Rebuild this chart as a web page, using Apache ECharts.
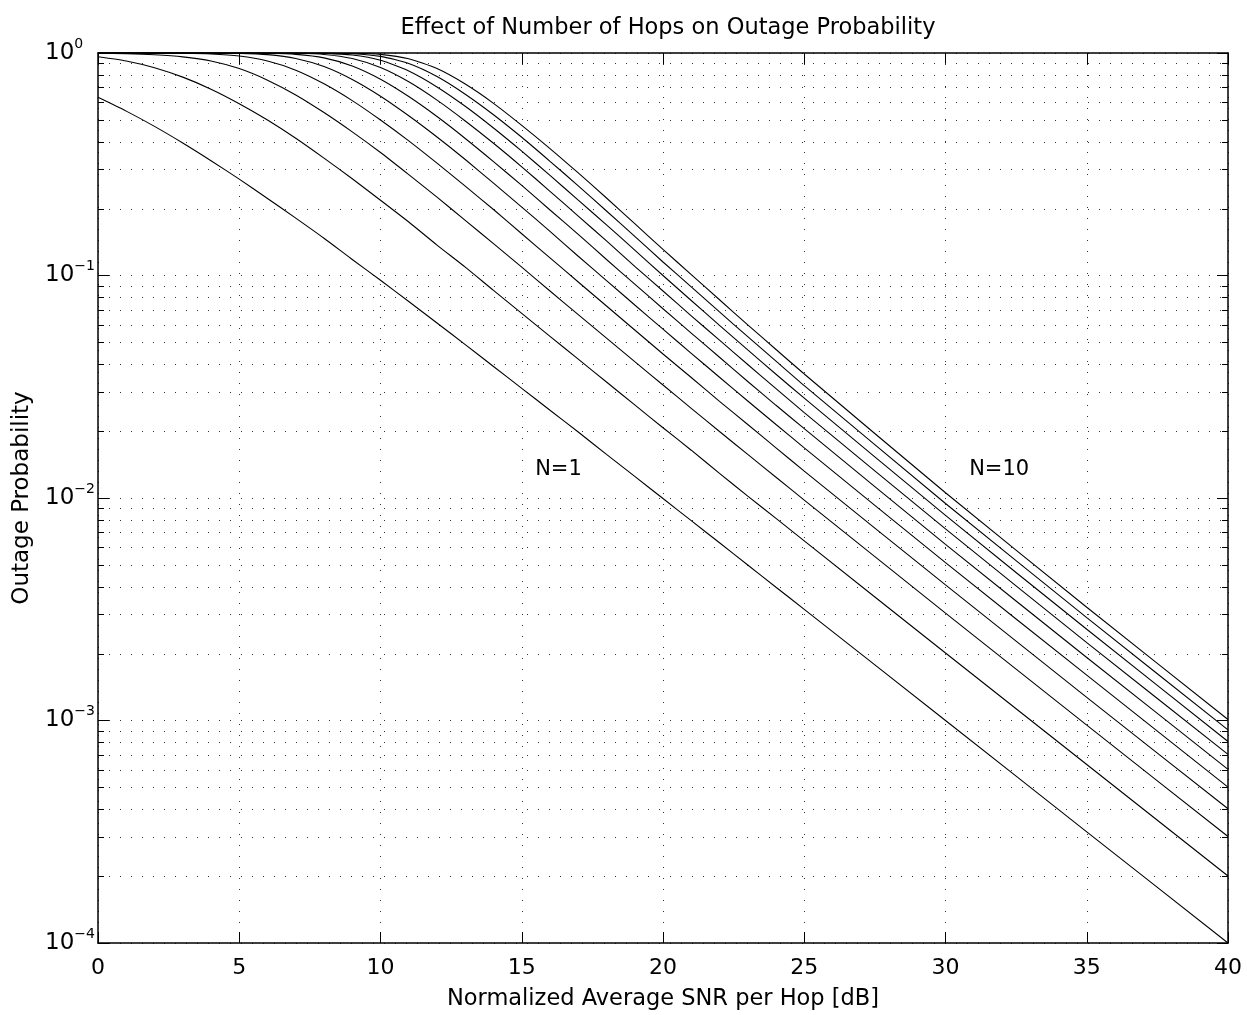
<!DOCTYPE html>
<html>
<head>
<meta charset="utf-8">
<title>Effect of Number of Hops on Outage Probability</title>
<script src="https://cdn.jsdelivr.net/npm/echarts@6/dist/echarts.min.js"></script>
<style>
  html, body { margin: 0; padding: 0; background: #fff; }
  #chart { width: 1247px; height: 1015px; }
</style>
</head>
<body>
<div id="chart"></div>
<script>
// x values (dB)
var snrDb = [0, 1, 2, 3, 4, 5, 6, 7, 8, 9, 10, 11, 12, 13, 14, 15, 16, 17, 18, 19, 20, 21, 22, 23, 24, 25, 30, 35, 40];

// outage probability, one array per number of hops
var pN1 = [0.632, 0.548, 0.468, 0.394, 0.328, 0.271, 0.222, 0.181, 0.147, 0.118, 0.0952, 0.0764, 0.0612, 0.0489, 0.0390, 0.0311, 0.0248, 0.0198, 0.0157, 0.0125, 0.00995, 0.00791, 0.00629, 0.00500, 0.00397, 0.00316, 0.00100, 0.000316, 0.000100];
var pN2 = [0.962, 0.921, 0.859, 0.779, 0.688, 0.592, 0.500, 0.414, 0.337, 0.272, 0.218, 0.174, 0.137, 0.109, 0.0857, 0.0676, 0.0533, 0.0421, 0.0332, 0.0262, 0.0207, 0.0164, 0.0129, 0.0102, 0.00810, 0.00642, 0.00201, 0.000634, 0.000200];
var pN3 = [0.998, 0.993, 0.982, 0.961, 0.921, 0.851, 0.755, 0.648, 0.540, 0.442, 0.357, 0.284, 0.225, 0.177, 0.139, 0.109, 0.0852, 0.0667, 0.0523, 0.0410, 0.0322, 0.0253, 0.0199, 0.0157, 0.0124, 0.00978, 0.00304, 0.000953, 0.000301];
var pN4 = [0.9999, 0.9996, 0.999, 0.997, 0.990, 0.969, 0.920, 0.837, 0.727, 0.611, 0.500, 0.403, 0.320, 0.252, 0.198, 0.154, 0.120, 0.0935, 0.0729, 0.0569, 0.0444, 0.0348, 0.0272, 0.0214, 0.0168, 0.0132, 0.00407, 0.00127, 0.000401];
var pN5 = [1, 1, 0.9999, 0.9996, 0.999, 0.996, 0.983, 0.945, 0.869, 0.760, 0.639, 0.522, 0.419, 0.332, 0.260, 0.203, 0.158, 0.122, 0.0949, 0.0737, 0.0574, 0.0447, 0.0349, 0.0273, 0.0214, 0.0168, 0.00512, 0.00160, 0.000502];
var pN6 = [1, 1, 1, 1, 0.9999, 0.9995, 0.997, 0.986, 0.951, 0.874, 0.762, 0.637, 0.518, 0.413, 0.325, 0.254, 0.197, 0.153, 0.118, 0.0915, 0.0709, 0.0551, 0.0429, 0.0334, 0.0261, 0.0205, 0.00619, 0.00192, 0.000603];
var pN7 = [1, 1, 1, 1, 1, 1, 0.9996, 0.997, 0.985, 0.944, 0.860, 0.742, 0.614, 0.495, 0.393, 0.308, 0.239, 0.185, 0.143, 0.110, 0.0852, 0.0659, 0.0512, 0.0398, 0.0310, 0.0242, 0.00726, 0.00224, 0.000704];
var pN8 = [1, 1, 1, 1, 1, 1, 1, 0.9995, 0.996, 0.979, 0.927, 0.830, 0.704, 0.576, 0.460, 0.362, 0.282, 0.218, 0.169, 0.130, 0.100, 0.0772, 0.0597, 0.0463, 0.0360, 0.0281, 0.00835, 0.00257, 0.000805];
var pN9 = [1, 1, 1, 1, 1, 1, 1, 1, 0.999, 0.993, 0.966, 0.897, 0.784, 0.653, 0.528, 0.418, 0.326, 0.253, 0.195, 0.150, 0.115, 0.0889, 0.0686, 0.0531, 0.0412, 0.0320, 0.00945, 0.00290, 0.000907];
var pN10 = [1, 1, 1, 1, 1, 1, 1, 1, 1, 0.998, 0.986, 0.942, 0.851, 0.725, 0.594, 0.473, 0.372, 0.289, 0.223, 0.171, 0.131, 0.101, 0.0778, 0.0600, 0.0465, 0.0361, 0.01056, 0.00323, 0.00101];

var hopSeries = [pN1, pN2, pN3, pN4, pN5, pN6, pN7, pN8, pN9, pN10];

// minor grid values on the log axis (2..9 per decade)
var yMinorTicks = [];
[1e-4, 1e-3, 1e-2, 1e-1].forEach(function (d) {
    for (var k = 2; k <= 9; k++) yMinorTicks.push(+(k * d).toPrecision(3));
});

var FONT = 'DejaVu Sans';
var dotted = [1, 10];

var chart = echarts.init(document.getElementById('chart'));

var series = [];
hopSeries.forEach(function (vals, i) {
    series.push({
        name: 'N=' + (i + 1),
        type: 'line',
        xAxisIndex: 0,
        yAxisIndex: 0,
        showSymbol: false,
        symbol: 'none',
        smooth: 0.2,
        z: 5,
        lineStyle: { color: '#000', width: 1.1 },
        data: snrDb.map(function (x, j) { return [x, vals[j]]; })
    });
});

// text labels N=1 and N=10
function hopLabel(txt, coord) {
    return {
        symbol: 'circle', symbolSize: 0, silent: true,
        label: { show: true, position: 'inside', formatter: txt, color: '#000', fontFamily: FONT, fontSize: 21 },
        data: [{ coord: coord }]
    };
}
series[0].markPoint = hopLabel('N=1', [16.3, 0.0134]);
series[9].markPoint = hopLabel('N=10', [31.9, 0.0134]);

// minor y grid + minor ticks on both sides
series.push({
    type: 'custom',
    xAxisIndex: 0,
    yAxisIndex: 0,
    silent: true,
    z: 1,
    data: yMinorTicks.map(function (v) { return [0, v]; }),
    renderItem: function (params, api) {
        var v = api.value(1);
        var a = api.coord([0, v]);
        var b = api.coord([40, v]);
        var y = Math.round(a[1]) + 0.5;
        return {
            type: 'group',
            children: [
                { type: 'line', shape: { x1: a[0], y1: y, x2: b[0], y2: y },
                  style: { stroke: '#333', lineWidth: 1, lineDash: dotted } },
                { type: 'line', shape: { x1: a[0], y1: y, x2: a[0] + 6, y2: y },
                  style: { stroke: '#000', lineWidth: 1 } },
                { type: 'line', shape: { x1: b[0] - 6, y1: y, x2: b[0], y2: y },
                  style: { stroke: '#000', lineWidth: 1 } }
            ]
        };
    }
});

var axisLine = { show: true, onZero: false, lineStyle: { color: '#000', width: 1.5 } };
var tick = { show: true, inside: true, length: 11, lineStyle: { color: '#000', width: 1 } };

var option = {
    animation: false,
    backgroundColor: '#fff',
    title: {
        text: 'Effect of Number of Hops on Outage Probability',
        left: 663,
        top: 12,
        textAlign: 'center',
        textStyle: { fontFamily: FONT, fontSize: 22.5, fontWeight: 'normal', color: '#000' }
    },
    grid: { left: 98, right: 19, top: 53, bottom: 72, containLabel: false, outerBoundsMode: 'none' },
    xAxis: [{
        type: 'value',
        min: 0, max: 40, interval: 5,
        position: 'bottom',
        axisLine: axisLine,
        axisTick: tick,
        axisLabel: { color: '#000', fontFamily: FONT, fontSize: 22, margin: 14 },
        splitLine: { show: true, lineStyle: { color: '#333', width: 1, type: dotted } },
        name: 'Normalized Average SNR per Hop [dB]',
        nameLocation: 'middle',
        nameGap: 45,
        nameTextStyle: { color: '#000', fontFamily: FONT, fontSize: 22.5 }
    }, {
        type: 'value',
        min: 0, max: 40, interval: 5,
        position: 'top',
        axisLine: axisLine,
        axisTick: tick,
        axisLabel: { show: false },
        splitLine: { show: false }
    }],
    yAxis: [{
        type: 'log',
        logBase: 10,
        min: 1e-4, max: 1,
        position: 'left',
        axisLine: axisLine,
        axisTick: tick,
        axisLabel: {
            color: '#000',
            margin: 53,
            align: 'left',
            formatter: function (v) {
                var e = Math.round(Math.log10(v));
                return '{b|10}{e|' + (e < 0 ? '\u2212' + (-e) : e) + '}';
            },
            rich: {
                b: { fontFamily: FONT, fontSize: 23, color: '#000' },
                e: { fontFamily: FONT, fontSize: 14, color: '#000', padding: [0, 0, 18, 0] }
            }
        },
        splitLine: { show: true, lineStyle: { color: '#333', width: 1, type: dotted } },
        name: 'Outage Probability',
        nameLocation: 'middle',
        nameGap: 64,
        nameMoveOverlap: false,
        nameRotate: 90,
        nameTextStyle: { color: '#000', fontFamily: FONT, fontSize: 23 }
    }, {
        type: 'log',
        logBase: 10,
        min: 1e-4, max: 1,
        position: 'right',
        axisLine: axisLine,
        axisTick: tick,
        axisLabel: { show: false },
        splitLine: { show: false }
    }],
    series: series
};

chart.setOption(option);
</script>
</body>
</html>
